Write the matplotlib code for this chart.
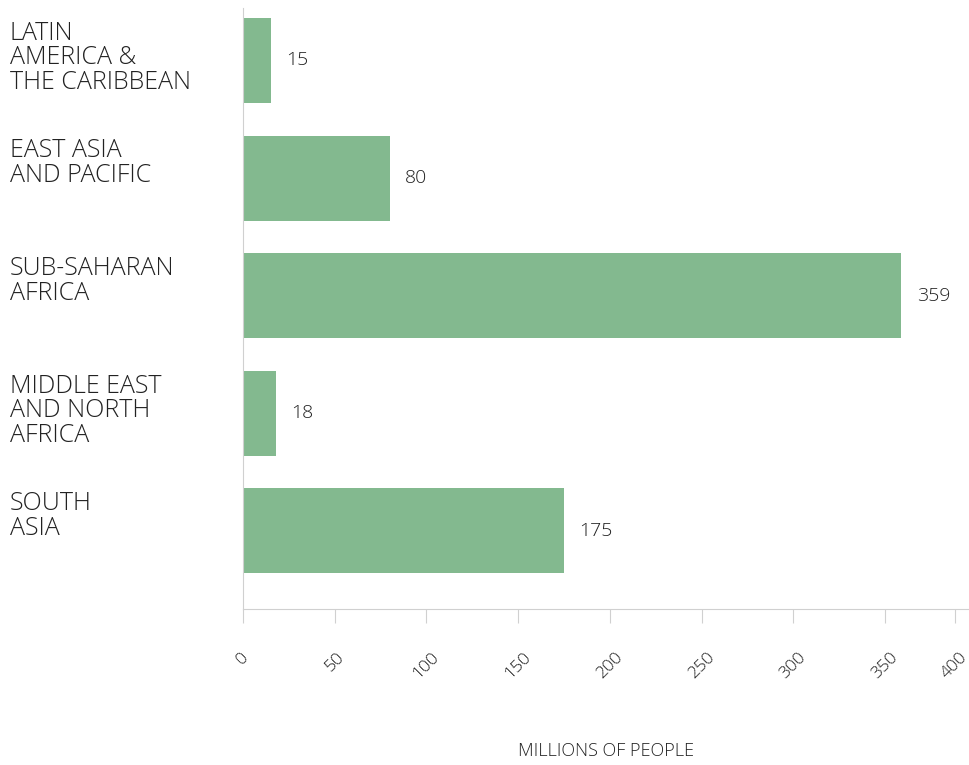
import matplotlib
matplotlib.use("Agg")
import matplotlib.pyplot as plt

regions = ["LATIN\nAMERICA &\nTHE CARIBBEAN", "EAST ASIA\nAND PACIFIC",
           "SUB-SAHARAN\nAFRICA", "MIDDLE EAST\nAND NORTH\nAFRICA", "SOUTH\nASIA"]
people = [15, 80, 359, 18, 175]
tick_vals = [0, 50, 100, 150, 200, 250, 300, 350, 388]
tick_labels = ["0", "50", "100", "150", "200", "250", "300", "350", "400"]

plt.rcParams['font.family'] = ['Open Sans', 'Lato', 'DejaVu Sans']
green = "#83b98f"
grey = "#d0d0d0"
txt = "#222222"
w = "light"

fig = plt.figure(figsize=(9.7, 7.65), dpi=100)
ax = fig.add_axes([243/970, 1-609/765, 727/970, (609-8)/765])

y = list(range(len(regions)))
ax.barh(y, people, height=0.723, color=green)
ax.set_ylim(4.664, -0.446)
ax.set_xlim(0, 396.4)

for i, v in enumerate(people):
    ax.annotate(str(v), (v, i), xytext=(11, 0), textcoords="offset points",
                va="center", ha="left", fontsize=14, color=txt, fontweight=w)

for i, lab in enumerate(regions):
    ax.annotate(lab, (0, i - 0.723/2), xycoords=("figure fraction", "data"),
                xytext=(7, -2), textcoords="offset points",
                va="top", ha="left", fontsize=18, color=txt, linespacing=0.98,
                fontweight=w)

for s in ["top", "right"]:
    ax.spines[s].set_visible(False)
ax.spines["left"].set_color(grey)
ax.spines["bottom"].set_color(grey)
ax.set_yticks([])
ax.set_xticks(tick_vals)
ax.set_xticklabels(tick_labels, rotation=45, ha="center", fontsize=12.5, color=txt,
                   fontweight=w)
ax.tick_params(axis="x", length=10, color=grey, pad=19)
ax.set_xlabel("MILLIONS OF PEOPLE", fontsize=13, color=txt, labelpad=43,
              fontweight=w)

fig.savefig("out.png", dpi=100)
